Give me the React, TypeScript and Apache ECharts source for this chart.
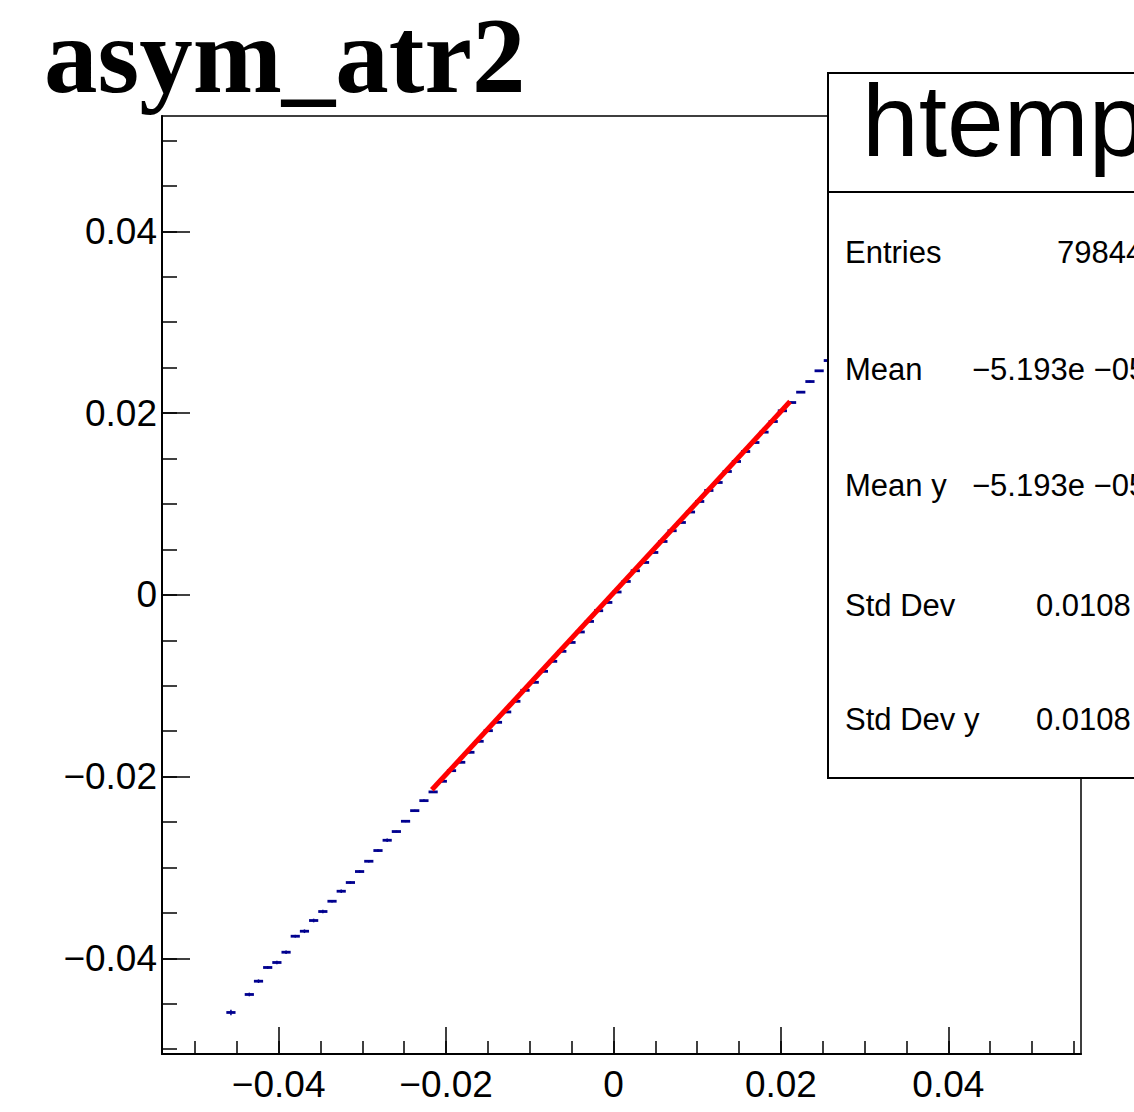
import React, { useEffect, useRef } from "react";
import * as echarts from "echarts";

// Histogram binning (htemp: 100 bins)
const X_MIN = -0.05394;
const X_MAX = 0.05585;
const Y_MIN = -0.05053;
const Y_MAX = 0.05269;
const BIN_LOW = -0.05394;
const BIN_WIDTH = 0.001098;

// Profile points (bin index, mean y, error)
const binIndex = [
  7, 9, 10, 11, 12, 13, 14, 15, 16, 17, 18, 19, 20, 21, 22, 23, 24, 25, 26, 27, 28, 29, 30, 31,
  32, 33, 34, 35, 36, 37, 38, 39, 40, 41, 42, 43, 44, 45, 46, 47, 48, 49, 50, 51, 52, 53, 54,
  55, 56, 57, 58, 59, 60, 61, 62, 63, 64, 65, 66, 67, 68, 69, 70, 71, 72, 73, 74, 75, 76, 77,
  78, 79, 80, 81, 82, 83, 84, 85, 86, 87, 88, 89, 90,
];
const profileMean = [
  -0.04596, -0.04398, -0.04252, -0.04101, -0.04046, -0.03933, -0.03757, -0.03702, -0.03584,
  -0.03485, -0.03372, -0.03262, -0.03166, -0.03045, -0.02932, -0.02814, -0.02701, -0.02605,
  -0.02492, -0.02375, -0.02265, -0.02169, -0.02052, -0.01935, -0.01843, -0.01733, -0.01612,
  -0.01495, -0.01403, -0.01289, -0.01172, -0.01051, -0.00963, -0.00842, -0.00732, -0.00622,
  -0.00524, -0.00409, -0.00293, -0.00175, -0.00084, 0.00031, 0.00147, 0.00265, 0.00356,
  0.00466, 0.00587, 0.00705, 0.00796, 0.00911, 0.01027, 0.01148, 0.01236, 0.01357, 0.01467,
  0.01577, 0.01676, 0.0179, 0.01907, 0.02025, 0.02116, 0.0223, 0.02347, 0.02465, 0.02578,
  0.02689, 0.02793, 0.02905, 0.03012, 0.03126, 0.03231, 0.03344, 0.0345, 0.03562, 0.03671,
  0.03779, 0.03888, 0.04001, 0.04107, 0.04219, 0.04324, 0.0444, 0.04569,
];
const profileErr = [
  0.0003, 0.0002, 0.0002, 0.00015, 0.0002, 0.0002, 0.00015, 0.0002, 0.0002, 0.0002, 0.00015,
  0.0002, 0.00015, 0.00015, 0.00015, 0.00015, 0.0002, 0.0001, 0.0001, 0.0001, 0.00015, 0.0001,
  0.0001, 0.0001, 0.0001, 0.0001, 0.0001, 0.0001, 0.0001, 0.0001, 0.0001, 0.0001, 0.0001,
  0.0001, 0.0001, 0.0001, 0.0001, 0.0001, 0.0001, 0.0001, 0.0001, 0.0001, 0.0001, 0.0001,
  0.0001, 0.0001, 0.0001, 0.0001, 0.0001, 0.0001, 0.0001, 0.0001, 0.0001, 0.0001, 0.0001,
  0.0001, 0.0001, 0.0001, 0.0001, 0.0001, 0.0001, 0.0001, 0.0001, 0.0001, 0.0001, 0.0001,
  0.0001, 0.0001, 0.0001, 0.00015, 0.00015, 0.00015, 0.00015, 0.00015, 0.00015, 0.0002, 0.0002,
  0.0002, 0.0002, 0.0002, 0.0002, 0.0002, 0.0003,
];

// Fit line (pol1) endpoints
const fitX = [-0.0217, 0.02109];
const fitY = [-0.02145, 0.02127];

// Axis ticks
const xMajor = [-0.04, -0.02, 0, 0.02, 0.04];
const xMinor = [
  -0.05, -0.045, -0.04, -0.035, -0.03, -0.025, -0.02, -0.015, -0.01, -0.005, 0, 0.005, 0.01,
  0.015, 0.02, 0.025, 0.03, 0.035, 0.04, 0.045, 0.05, 0.055,
];
const yMajor = [-0.04, -0.02, 0, 0.02, 0.04];
const yMinor = [
  -0.05, -0.045, -0.04, -0.035, -0.03, -0.025, -0.02, -0.015, -0.01, -0.005, 0, 0.005, 0.01,
  0.015, 0.02, 0.025, 0.03, 0.035, 0.04, 0.045, 0.05,
];

// Stats box
const statLabels = ["Entries", "Mean", "Mean y", "Std Dev", "Std Dev y"];
const statValues = ["79844", "\u22125.193e \u221205", "\u22125.193e \u221205", "0.0108", "0.0108"];

const fmt = (v: number) =>
  v === 0 ? "0" : v < 0 ? "\u2212" + Math.abs(v).toFixed(2) : v.toFixed(2);

export default function App() {
  const ref = useRef<HTMLDivElement>(null);
  useEffect(() => {
    document.body.style.margin = "0";
    if (!ref.current) return;
    const chart = echarts.init(ref.current, undefined, { renderer: "svg" });
    const profData = binIndex.map((k, i) => [
      BIN_LOW + (k + 0.5) * BIN_WIDTH,
      profileMean[i],
      profileErr[i],
    ]);
    const axisFont = { fontFamily: "Liberation Sans", fontSize: 37, color: "#000" };
    const statFont = '31px "Liberation Sans"';
    const rowY = [252, 369.5, 485, 605, 719];
    const valX = [1057, 972, 972, 1036, 1036];
    const graphic: any[] = [
      {
        type: "text",
        x: 44,
        y: 56,
        style: {
          text: "asym_atr2",
          font: 'bold 107px "Liberation Serif"',
          lineHeight: 104,
          fill: "#000",
          verticalAlign: "middle",
        },
        z: 100,
      },
      {
        type: "rect",
        shape: { x: 828, y: 73, width: 400, height: 705 },
        style: { fill: "#fff", stroke: "#000", lineWidth: 2 },
        z: 100,
      },
      {
        type: "line",
        shape: { x1: 828, y1: 192, x2: 1228, y2: 192 },
        style: { stroke: "#000", lineWidth: 2 },
        z: 101,
      },
      {
        type: "text",
        x: 862,
        y: 121,
        style: {
          text: "htemp",
          font: '102px "Liberation Sans"',
          fill: "#000",
          verticalAlign: "middle",
        },
        z: 101,
      },
    ];
    statLabels.forEach((t, i) => {
      graphic.push({
        type: "text",
        x: 845,
        y: rowY[i],
        style: { text: t, font: statFont, fill: "#000", verticalAlign: "middle" },
        z: 101,
      });
      graphic.push({
        type: "text",
        x: valX[i],
        y: rowY[i],
        style: { text: statValues[i], font: statFont, fill: "#000", verticalAlign: "middle" },
        z: 101,
      });
    });

    chart.setOption({
      animation: false,
      backgroundColor: "#fff",
      grid: {
        left: 162,
        top: 116,
        right: 53,
        bottom: 58,
        show: true,
        borderColor: "#000",
        borderWidth: 1.5,
        backgroundColor: "transparent",
      },
      xAxis: [
        {
          type: "value",
          min: X_MIN,
          max: X_MAX,
          position: "bottom",
          splitLine: { show: false },
          axisLine: { onZero: false, lineStyle: { color: "#000", width: 2 } },
          axisTick: {
            inside: true,
            length: 27,
            customValues: xMajor,
            lineStyle: { color: "#000", width: 1.5 },
          },
          axisLabel: { ...axisFont, margin: 12, customValues: xMajor, formatter: fmt },
        },
        {
          type: "value",
          min: X_MIN,
          max: X_MAX,
          position: "bottom",
          splitLine: { show: false },
          axisLine: { show: false, onZero: false },
          axisTick: {
            inside: true,
            length: 13,
            customValues: xMinor,
            lineStyle: { color: "#000", width: 1.5 },
          },
          axisLabel: { show: false },
        },
      ],
      yAxis: [
        {
          type: "value",
          min: Y_MIN,
          max: Y_MAX,
          position: "left",
          splitLine: { show: false },
          axisLine: { onZero: false, lineStyle: { color: "#000", width: 2 } },
          axisTick: {
            inside: true,
            length: 28,
            customValues: yMajor,
            lineStyle: { color: "#000", width: 1.5 },
          },
          axisLabel: { ...axisFont, margin: 5, customValues: yMajor, formatter: fmt },
        },
        {
          type: "value",
          min: Y_MIN,
          max: Y_MAX,
          position: "left",
          splitLine: { show: false },
          axisLine: { show: false, onZero: false },
          axisTick: {
            inside: true,
            length: 15,
            customValues: yMinor,
            lineStyle: { color: "#000", width: 1.5 },
          },
          axisLabel: { show: false },
        },
      ],
      series: [
        {
          type: "custom",
          xAxisIndex: 0,
          yAxisIndex: 0,
          clip: true,
          data: profData,
          z: 2,
          renderItem: (params: any, api: any) => {
            const x = api.value(0);
            const y = api.value(1);
            const e = api.value(2);
            const a = api.coord([x - BIN_WIDTH / 2, y]);
            const b = api.coord([x + BIN_WIDTH / 2, y]);
            const t = api.coord([x, y + e]);
            const u = api.coord([x, y - e]);
            return {
              type: "group",
              children: [
                {
                  type: "line",
                  shape: { x1: a[0], y1: a[1], x2: b[0], y2: b[1] },
                  style: { stroke: "#00008f", lineWidth: 2.8 },
                },
                {
                  type: "line",
                  shape: { x1: t[0], y1: t[1], x2: u[0], y2: u[1] },
                  style: { stroke: "#00008f", lineWidth: 1.5 },
                },
              ],
            };
          },
        },
        {
          type: "line",
          xAxisIndex: 0,
          yAxisIndex: 0,
          data: fitX.map((x, i) => [x, fitY[i]]),
          showSymbol: false,
          symbol: "none",
          z: 3,
          lineStyle: { color: "#ff0000", width: 5 },
        },
      ],
      graphic,
    });
    return () => chart.dispose();
  }, []);
  return <div ref={ref} style={{ width: 1134, height: 1112 }} />;
}
